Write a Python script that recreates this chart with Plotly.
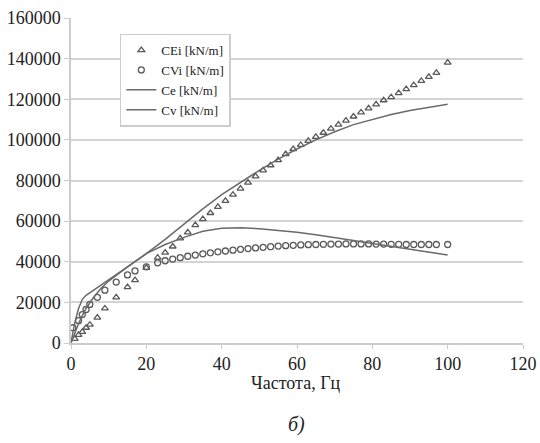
import plotly.graph_objects as go

# CEi measured points
cei_f = [1, 2, 3, 4, 5, 7, 9, 12, 15, 17, 20, 23, 25, 27, 29, 31, 33, 35, 37, 39,
         41, 43, 45, 47, 49, 51, 53, 55, 57, 59, 61, 63, 65, 67, 69, 71, 73, 75, 77, 79,
         81, 83, 85, 87, 89, 91, 93, 95, 97, 100]
cei_v = [2000, 4000, 5500, 7500, 9000, 12500, 17000, 22500, 27500, 31000, 37000, 42000,
         44500, 47500, 51500, 54500, 58000, 61000, 64000, 67000, 70000, 73000, 76000,
         79000, 82000, 85000, 87500, 90000, 93000, 95500, 97500, 99500, 101500, 103500,
         105500, 107500, 109500, 111500, 113500, 115500, 117500, 119500, 121000, 123000,
         125000, 127000, 129000, 131000, 133000, 138000]

# CVi measured points
cvi_f = [0.5, 2, 3, 4, 5, 7, 9, 12, 15, 17, 20, 23, 25, 27, 29, 31, 33, 35, 37, 39,
         41, 43, 45, 47, 49, 51, 53, 55, 57, 59, 61, 63, 65, 67, 69, 71, 73, 75, 77, 79,
         81, 83, 85, 87, 89, 91, 93, 95, 97, 100]
cvi_v = [7500, 11000, 14000, 16500, 19000, 22500, 26000, 30000, 33500, 35500, 37500,
         39500, 40500, 41300, 42000, 42700, 43300, 43900, 44400, 44900, 45300, 45700,
         46100, 46500, 46800, 47100, 47400, 47700, 47900, 48100, 48300, 48400, 48500,
         48600, 48700, 48700, 48800, 48800, 48800, 48800, 48700, 48700, 48600, 48600,
         48500, 48500, 48500, 48500, 48500, 48500]

# Model curves
line_f = [0, 1, 2, 3, 4, 6, 8, 10, 15, 20, 25, 30, 35, 40, 45, 50, 55, 60, 65, 70,
          75, 80, 85, 90, 95, 100]
ce_v = [0, 5000, 9500, 13500, 17000, 22500, 27000, 30500, 37500, 44000, 51000, 58500,
        66000, 73000, 79000, 85000, 90500, 95500, 100000, 104000, 107500, 110000,
        112500, 114500, 116000, 117500]
cv_v = [0, 10000, 17000, 21500, 23500, 26000, 28500, 31000, 37500, 44000, 48500, 52000,
        55000, 56500, 56700, 56300, 55500, 54500, 53300, 52000, 50500, 49000, 47500,
        46000, 44800, 43300]

x_ticks = [0, 20, 40, 60, 80, 100, 120]
y_ticks = [0, 20000, 40000, 60000, 80000, 100000, 120000, 140000, 160000]

font = "Liberation Serif"
mark_col = "#5a5a5a"
line_col = "#6a6a6a"

fig = go.Figure()
fig.add_trace(go.Scatter(x=cei_f, y=cei_v, mode="markers", name="CEi [kN/m]",
                         marker=dict(symbol="triangle-up-open", size=6, color=mark_col,
                                     line=dict(width=1.3, color=mark_col))))
fig.add_trace(go.Scatter(x=cvi_f, y=cvi_v, mode="markers", name="CVi [kN/m]",
                         marker=dict(symbol="circle-open", size=6, color=mark_col,
                                     line=dict(width=1.3, color=mark_col))))
fig.add_trace(go.Scatter(x=line_f, y=ce_v, mode="lines", name="Ce [kN/m]",
                         line=dict(color=line_col, width=1.5)))
fig.add_trace(go.Scatter(x=line_f, y=cv_v, mode="lines", name="Cv [kN/m]",
                         line=dict(color=line_col, width=1.5)))

fig.update_layout(
    width=540, height=443,
    margin=dict(l=71, r=17, t=18, b=100, autoexpand=False),
    paper_bgcolor="white", plot_bgcolor="white",
    font=dict(family=font, size=16, color="#222"),
    showlegend=True,
    legend=dict(x=0.108, y=0.952, xanchor="left", yanchor="top",
                bgcolor="white", bordercolor="#cccccc", borderwidth=1.5,
                font=dict(family=font, size=13, color="#222"),
                tracegroupgap=0, itemwidth=30),
    xaxis=dict(range=[0, 120], tickvals=x_ticks, ticktext=[str(t) for t in x_ticks],
               showgrid=False, zeroline=False, showline=True, linecolor="#cccccc",
               linewidth=1.5, ticks="outside", ticklen=4, tickcolor="#cccccc",
               automargin=False,
               tickfont=dict(family=font, size=18, color="#222")),
    yaxis=dict(range=[0, 160000], tickvals=y_ticks, ticktext=[str(t) for t in y_ticks],
               showgrid=True, gridcolor="#d4d4d4", gridwidth=1.5, zeroline=False,
               showline=True, linecolor="#cccccc", linewidth=1.5,
               ticks="outside", ticklen=5, tickcolor="#cccccc", automargin=False,
               tickfont=dict(family=font, size=18, color="#222")),
    annotations=[
        dict(text="Частота, Гц", x=0.497, y=-0.123, xref="paper", yref="paper",
             xanchor="center", yanchor="middle", showarrow=False,
             font=dict(family=font, size=18, color="#222")),
        dict(text="<i>б)</i>", x=0.498, y=-0.252, xref="paper", yref="paper",
             xanchor="center", yanchor="middle", showarrow=False,
             font=dict(family=font, size=20, color="#222")),
    ],
)

fig.write_html("out.html", config={"displayModeBar": False},
               post_script="document.body.style.margin='0';document.body.style.overflow='hidden';")
